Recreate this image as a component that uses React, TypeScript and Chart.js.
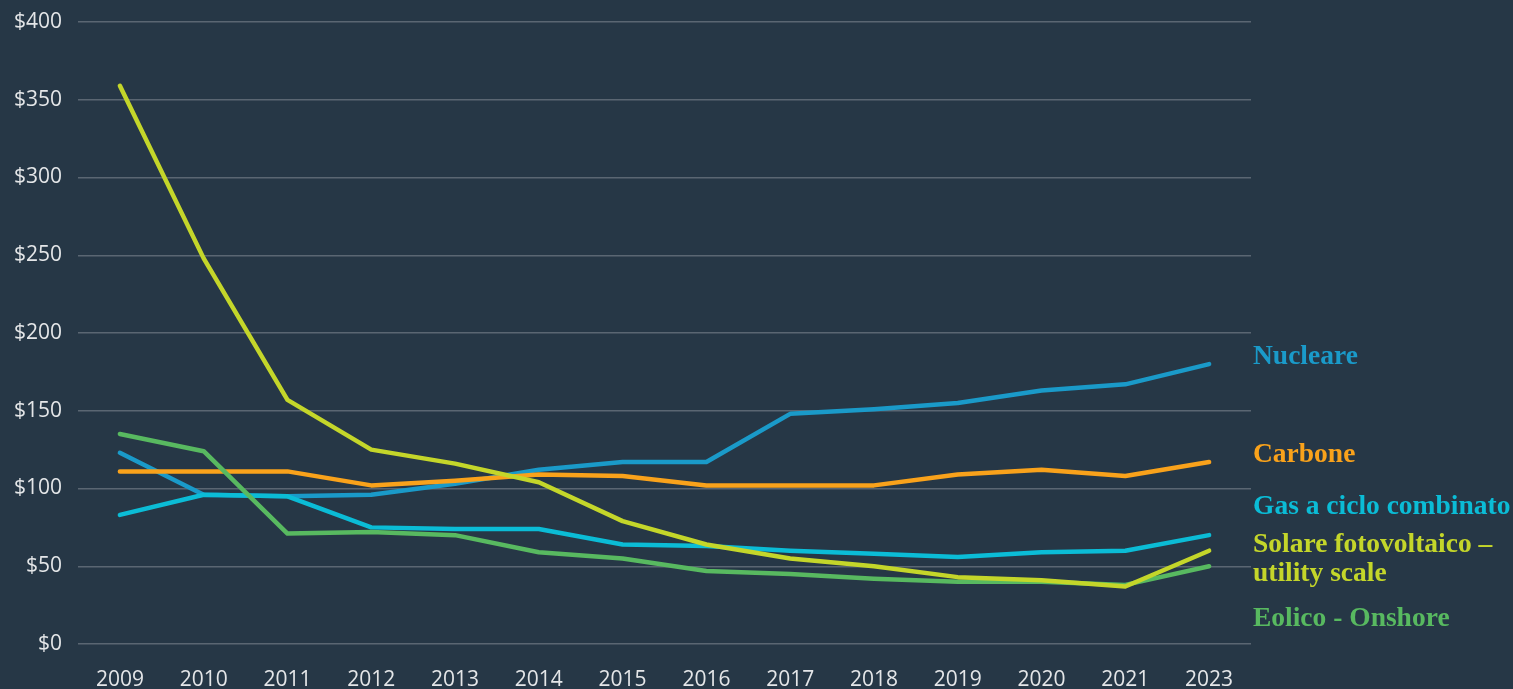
import React, { useEffect, useRef } from "react";
import { Chart, registerables } from "chart.js";

Chart.register(...registerables);

const years = ["2009","2010","2011","2012","2013","2014","2015","2016","2017","2018","2019","2020","2021","2023"];
const nucleare = [123, 96, 95, 96, 103, 112, 117, 117, 148, 151, 155, 163, 167, 180];
const carbone = [111, 111, 111, 102, 105, 109, 108, 102, 102, 102, 109, 112, 108, 117];
const gas = [83, 96, 95, 75, 74, 74, 64, 63, 60, 58, 56, 59, 60, 70];
const solare = [359, 248, 157, 125, 116, 104, 79, 64, 55, 50, 43, 41, 37, 60];
const eolico = [135, 124, 71, 72, 70, 59, 55, 47, 45, 42, 40, 40, 38, 50];

const seriesNames = ["Nucleare", "Carbone", "Gas a ciclo combinato", "Solare fotovoltaico – utility scale", "Eolico - Onshore"];
const colors = ["#1a9ac9", "#f9a21b", "#0bbcd6", "#c4d62a", "#58b960"];

const BG = "#263746";

const sideLabels = [
  { lines: ["Nucleare"], color: colors[0], y: 357 },
  { lines: ["Carbone"], color: colors[1], y: 455 },
  { lines: ["Gas a ciclo combinato"], color: colors[2], y: 507 },
  { lines: ["Solare fotovoltaico –", "utility scale"], color: colors[3], y: 545 },
  { lines: ["Eolico - Onshore"], color: colors[4], y: 619 },
];

const sideLabelPlugin = {
  id: "sideLabels",
  afterDraw(chart: any) {
    const ctx = chart.ctx;
    ctx.save();
    ctx.font = "bold 27.5px 'Liberation Serif', serif";
    ctx.textAlign = "left";
    ctx.textBaseline = "middle";
    const x = chart.chartArea.right + 2;
    sideLabels.forEach((l) => {
      ctx.fillStyle = l.color;
      l.lines.forEach((t, i) => ctx.fillText(t, x, l.y + i * 29));
    });
    ctx.restore();
  },
};

export default function App() {
  const ref = useRef<HTMLCanvasElement>(null);
  useEffect(() => {
    document.body.style.margin = "0";
    document.body.style.background = BG;
    const data = [nucleare, carbone, gas, solare, eolico];
    const tickFont = { family: "'Open Sans', sans-serif", size: 21 };
    const chart = new Chart(ref.current!, {
      type: "line",
      data: {
        labels: years,
        datasets: [3, 4, 2, 1, 0].map((i) => ({
          label: seriesNames[i],
          data: data[i],
          borderColor: colors[i],
          backgroundColor: colors[i],
          borderWidth: 4.5,
          pointRadius: 0,
          tension: 0,
          borderCapStyle: "round" as const,
          borderJoinStyle: "round" as const,
        })),
      },
      options: {
        responsive: false,
        animation: false,
        layout: { padding: { top: 22, right: 262, bottom: 0, left: 0 } },
        plugins: { legend: { display: false }, tooltip: { enabled: false } },
        scales: {
          x: {
            offset: true,
            grid: { display: false, drawTicks: false },
            border: { display: false },
            afterFit: (s: any) => { s.height = 45; s.paddingLeft = 0; s.paddingRight = 0; },
            ticks: { color: "#e4e6e8", font: tickFont, padding: 23, maxRotation: 0, autoSkip: false },
          },
          y: {
            min: 0,
            max: 400,
            grid: { color: "#5a6672", lineWidth: 1.5, drawTicks: false },
            border: { display: false },
            afterFit: (s: any) => { s.width = 78; s.paddingTop = 0; s.paddingBottom = 0; },
            ticks: {
              stepSize: 50,
              color: "#e4e6e8",
              padding: 16,
              font: tickFont,
              callback: (v: any) => "$" + v,
            },
          },
        },
      },
      plugins: [sideLabelPlugin],
    });
    return () => chart.destroy();
  }, []);
  return (
    <div style={{ position: "fixed", left: 0, top: 0, width: 1513, height: 689, background: BG }}>
      <canvas ref={ref} width={1513} height={689} style={{ display: "block" }} />
    </div>
  );
}
